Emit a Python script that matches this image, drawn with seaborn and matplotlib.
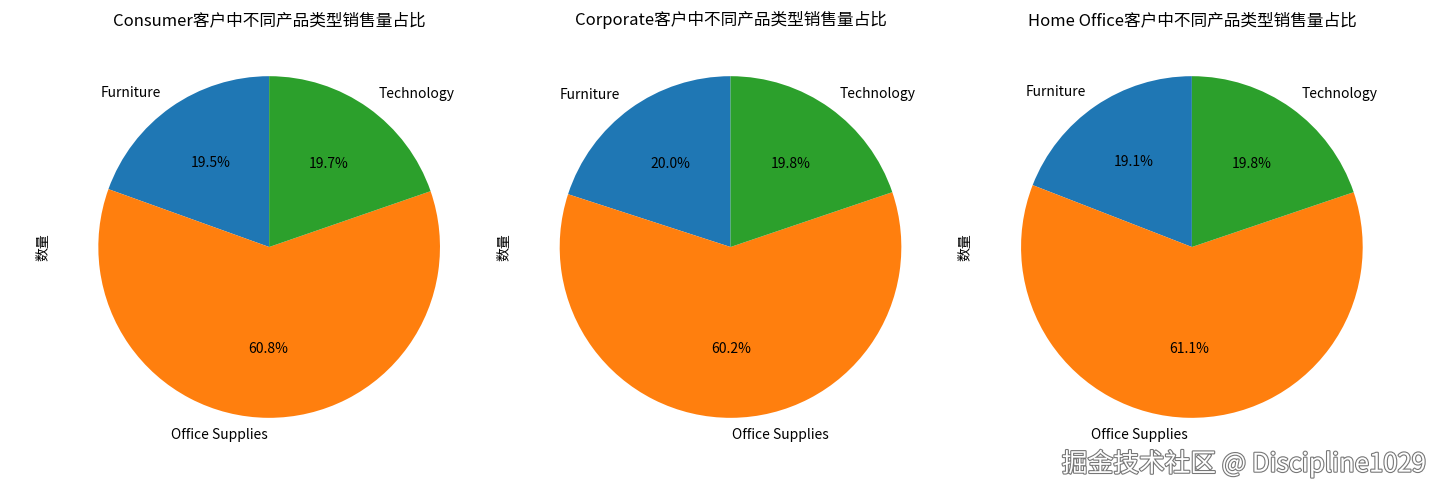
import matplotlib
matplotlib.use("Agg")
import matplotlib.pyplot as plt
import matplotlib.patheffects as pe
import seaborn as sns

segments = ["Consumer", "Corporate", "Home Office"]
categories = ["Furniture", "Office Supplies", "Technology"]
consumer_share = [19.5, 60.8, 19.7]
corporate_share = [20.0, 60.2, 19.8]
home_office_share = [19.1, 61.1, 19.8]

sns.set_style("white")
plt.rcParams["font.family"] = ["Noto Sans CJK SC", "DejaVu Sans"]
plt.rcParams["axes.unicode_minus"] = False
plt.rcParams["text.color"] = "black"
plt.rcParams["axes.labelcolor"] = "black"

colors = sns.color_palette("tab10", 3)

fig, axes = plt.subplots(1, 3, figsize=(14.41, 4.96), dpi=100)
fig.subplots_adjust(left=0.0385, right=0.9754, bottom=0.0715, top=0.9325, wspace=0.0796)

for ax, seg, vals in zip(axes, segments, [consumer_share, corporate_share, home_office_share]):
    ax.pie(vals, labels=categories, colors=colors, autopct="%.1f%%", startangle=90,
           wedgeprops={"linewidth": 0}, textprops={"fontsize": 10, "color": "black"})
    ax.set_title(f"{seg}客户中不同产品类型销售量占比", fontsize=12, color="black")
    ax.set_ylabel("数量", fontsize=10)

fig.text(0.99, 0.065, "掘金技术社区 @ Discipline1029", ha="right", va="center",
         fontsize=18.5, color="white",
         path_effects=[pe.withStroke(linewidth=1.6, foreground="#777777")])

fig.savefig("out.png", dpi=100)
